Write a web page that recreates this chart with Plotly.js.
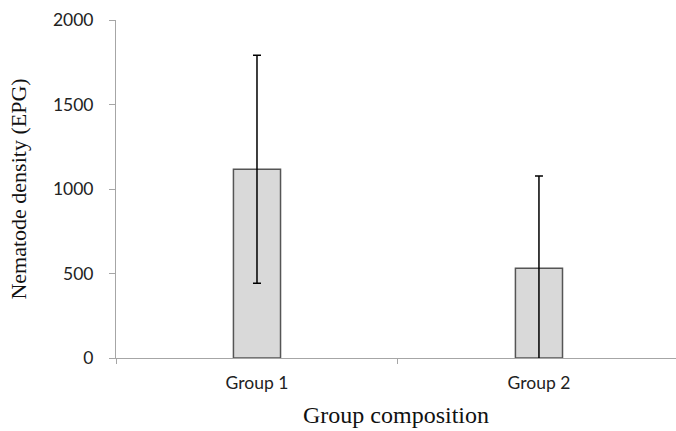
<!DOCTYPE html>
<html><head><meta charset="utf-8">
<script src="https://cdn.plot.ly/plotly-3.0.1.min.js"></script>
<style>html,body{margin:0;padding:0;background:#fff}#chart{width:676px;height:431px}</style>
</head><body><div id="chart"></div>
<script>
const categories = ["Group 1", "Group 2"];
const meanEPG = [1117, 531];
const errorEPG = [675, 546];
const yTicks = [0, 500, 1000, 1500, 2000];

const trace = {
  type: "bar",
  x: categories,
  y: meanEPG,
  marker: {color: "#d9d9d9", line: {color: "#555555", width: 1.5}},
  error_y: {type: "data", array: errorEPG, visible: true, color: "#000000", thickness: 1.5, width: 4},
  hoverinfo: "skip"
};

const layout = {
  width: 676, height: 431,
  margin: {l: 116, r: 0, t: 20, b: 73},
  paper_bgcolor: "#ffffff", plot_bgcolor: "#ffffff",
  bargap: 0.833,
  showlegend: false,
  xaxis: {
    type: "category",
    range: [-0.5, 1.486],
    showline: true, linecolor: "#a6a6a6", linewidth: 1,
    ticks: "outside", tickson: "boundaries", ticklen: 5, tickcolor: "#a6a6a6",
    showgrid: false, zeroline: false,
    tickfont: {family: "Lato, 'Open Sans', sans-serif", size: 17.5, color: "#222"},
    ticklabelstandoff: 9,
    title: {text: "Group composition", font: {family: "'Liberation Serif', 'DejaVu Serif', serif", size: 24, color: "#111"}, standoff: 14}
  },
  yaxis: {
    range: [0, 2000],
    tickvals: yTicks,
    showline: true, linecolor: "#a6a6a6", linewidth: 1,
    ticks: "outside", ticklen: 6, tickcolor: "#a6a6a6",
    showgrid: false, zeroline: false,
    tickfont: {family: "Lato, 'Open Sans', sans-serif", size: 17.5, color: "#222"},
    ticklabelstandoff: 12,
    title: {text: "Nematode density (EPG)", font: {family: "'Liberation Serif', 'DejaVu Serif', serif", size: 22, color: "#111"}, standoff: 20}
  }
};

Plotly.newPlot("chart", [trace], layout, {displayModeBar: false, staticPlot: true});
</script></body></html>
